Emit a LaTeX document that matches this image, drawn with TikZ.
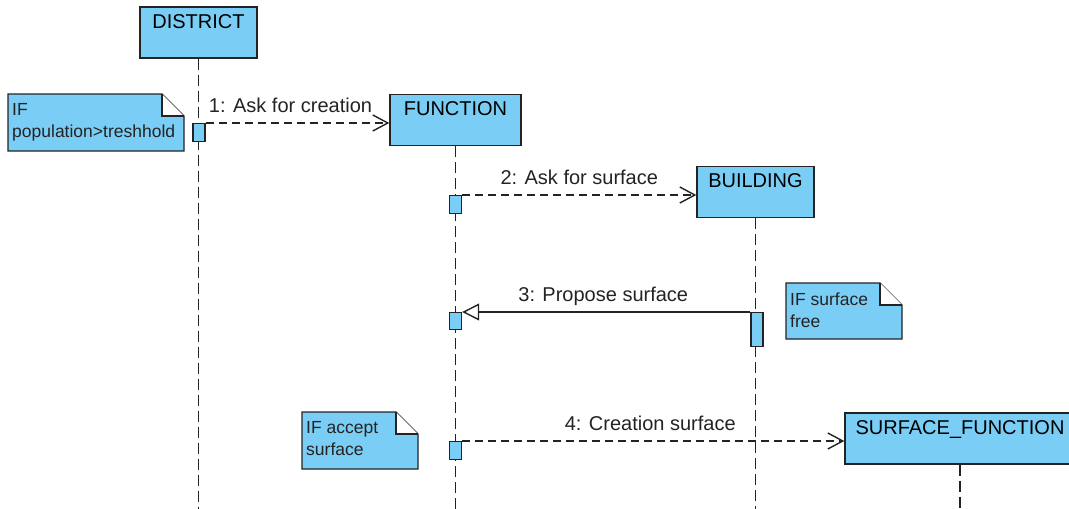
\documentclass[tikz,border=0pt]{standalone}
\usepackage{fontspec}
\setmainfont{Liberation Sans}
\usetikzlibrary{positioning,arrows.meta}

\definecolor{umlblue}{RGB}{122,206,245}
\definecolor{umlline}{RGB}{35,35,35}

% note with folded corner: name, left, top, right, bottom, text
\newcommand{\umlnote}[6]{%
    \filldraw[notebox] (#2,#3) -- (#4-22,#3) -- (#4,#3+22) -- (#4,#5) -- (#2,#5) -- cycle;
    \filldraw[notebox,fill=white] (#4-22,#3) -- (#4-22,#3+22) -- (#4,#3+22);
    \node[notetext] (#1) at (#2+4,#3+9.5) {#6};
}

\begin{document}
\begin{tikzpicture}[x=1pt, y=-1pt,
                        object/.style={draw=umlline,fill=umlblue,line width=1.4pt,inner sep=0pt,
                                       minimum width=117pt,text height=21pt,text depth=30pt,
                                       font=\fontsize{20}{24}\selectfont},
                        act/.style={draw=umlline,fill=umlblue,line width=1.4pt,inner sep=0pt,
                                    minimum width=12pt,anchor=north},
                        lifeline/.style={draw=umlline,line width=1.9pt,dash pattern=on 11pt off 5pt},
                        msg/.style={draw=umlline,line width=1.4pt,dash pattern=on 8pt off 5pt,
                                    -{Straight Barb[length=15pt,width=16pt]}},
                        reply/.style={draw=umlline,line width=1.4pt,
                                      -{Triangle[length=17pt,width=17pt,fill=white]}},
                        msglabel/.style={midway,anchor=base,yshift=11pt,text=umlline,
                                         font=\fontsize{20}{24}\selectfont},
                        notebox/.style={draw=umlline,fill=umlblue,line width=1.4pt},
                        notetext/.style={anchor=north west,inner sep=0pt,align=left,text=umlline,
                                         font=\fontsize{17.5}{22}\selectfont}
                        ]
    \useasboundingbox (0,0) rectangle (1069,509);
    \clip (0,0) rectangle (1069,509);

    % objects
    \node[object] (district) at (198.5,32.5) {DISTRICT};
    \node[object,minimum width=131pt] (function) at (455.5,120) {FUNCTION};
    \node[object] (building) at (755.5,192) {BUILDING};
    \node[object,minimum width=230pt] (surface) at (960,438.5) {SURFACE\_FUNCTION};
    \coordinate (bottom) at (0,512);

    % lifelines
    \draw[lifeline] (district.south) -- (district.south |- bottom);
    \draw[lifeline] (function.south) -- (function.south |- bottom);
    \draw[lifeline] (building.south) -- (building.south |- bottom);
    \draw[lifeline] (surface.south) -- (surface.south |- bottom);

    % activations
    \node[act,minimum height=18pt] (act1) at (199,123) {};
    \node[act,minimum height=18pt] (act2) at (455.5,195) {};
    \node[act,minimum height=34pt] (act3b) at (757,312) {};
    \node[act,minimum height=17pt] (act3f) at (455.5,312) {};
    \node[act,minimum height=18pt] (act4) at (455.5,441) {};

    % messages
    \draw[msg] (act1.north east) -- (act1.north east -| function.west) node[msglabel,xshift=-7pt] {1: Ask for creation};
    \draw[msg] (act2.north east) -- (act2.north east -| building.west) node[msglabel] {2: Ask for surface};
    \draw[reply] (act3b.north west) -- (act3b.north west -| act3f.east) node[msglabel,xshift=-3pt] {3: Propose surface};
    \draw[msg] (act4.north east) -- (act4.north east -| surface.west) node[msglabel,xshift=-3pt] {4: Creation surface};

    % notes
    \umlnote{note1}{8}{94}{184}{151}{IF\\population>treshhold}
    \umlnote{note2}{786}{283}{902}{339}{IF surface\\free}
    \umlnote{note3}{302}{412}{418}{469}{IF accept\\surface}
\end{tikzpicture}
\end{document}
